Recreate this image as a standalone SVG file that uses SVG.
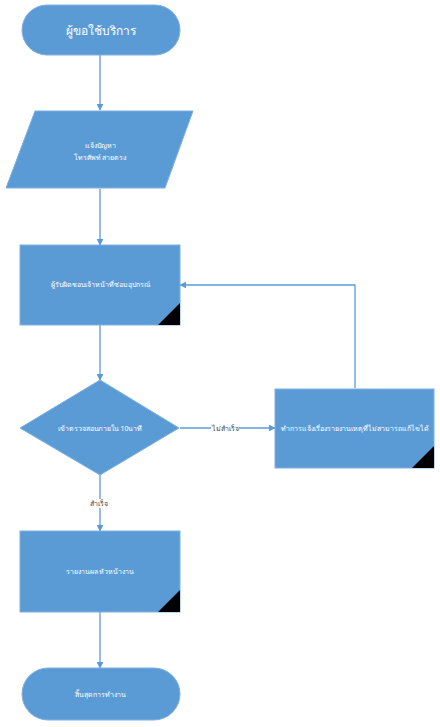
<svg xmlns="http://www.w3.org/2000/svg" width="440" height="727" viewBox="0 0 440 727">
<style>
.shape{fill:#5B9BD5;stroke:#7FB0DE;stroke-width:1}
.corner{fill:#000}
.t{font-family:"Noto Sans","DejaVu Sans",sans-serif;fill:#fff;text-anchor:middle;dominant-baseline:central}
.small{font-size:7px}
.big{font-size:12px}
.conn{fill:none;stroke:#5B9BD5;stroke-width:1.3}
.lbl{font-family:"Noto Sans","DejaVu Sans",sans-serif;font-size:7px;fill:#404040;text-anchor:middle;dominant-baseline:central}
</style>
<defs>
<marker id="ah" viewBox="0 0 10 10" refX="9" refY="5" markerWidth="7" markerHeight="7" orient="auto" markerUnits="userSpaceOnUse">
<path d="M0,0 L10,5 L0,10 z" fill="#5B9BD5"/>
</marker>
</defs>
<rect width="440" height="727" fill="#fff"/>
<g id="connectors">
<line class="conn" x1="100" y1="55" x2="100" y2="110" marker-end="url(#ah)"/>
<line class="conn" x1="100" y1="189" x2="100" y2="245" marker-end="url(#ah)"/>
<line class="conn" x1="100" y1="325" x2="100" y2="380" marker-end="url(#ah)"/>
<line class="conn" x1="180" y1="428" x2="275" y2="428" marker-end="url(#ah)"/>
<polyline class="conn" points="355,388 355,285 180,285" marker-end="url(#ah)"/>
<line class="conn" x1="100" y1="475" x2="100" y2="531" marker-end="url(#ah)"/>
<line class="conn" x1="100" y1="612" x2="100" y2="668" marker-end="url(#ah)"/>
<rect x="211" y="424" width="28" height="9" fill="#fff"/>
<text class="lbl" x="225" y="428">ไม่สำเร็จ</text>
<rect x="88" y="499" width="22" height="9" fill="#fff"/>
<text class="lbl" x="99" y="503">สำเร็จ</text>
</g>
<g id="start">
<rect class="shape" x="22" y="5" width="158" height="50" rx="25" ry="25"/>
<text class="t big" x="101" y="30">ผู้ขอใช้บริการ</text>
</g>
<g id="input">
<polygon class="shape" points="35,111 193,111 165,188 6,188"/>
<text class="t small" x="100" y="145">แจ้งปัญหา</text>
<text class="t small" x="100" y="157">โทรศัพท์ สายตรง</text>
</g>
<g id="process1">
<rect class="shape" x="20" y="245" width="160" height="80"/>
<polygon class="corner" points="158,325 180,325 180,303"/>
<text class="t small" x="100" y="284">ผู้รับผิดชอบเจ้าหน้าที่ซ่อมอุปกรณ์</text>
</g>
<g id="decision">
<polygon class="shape" points="100,380 179,428 100,475 20,428"/>
<text class="t small" x="100" y="428">เข้าตรวจสอบภายใน 10นาที</text>
</g>
<g id="process2">
<rect class="shape" x="275" y="389" width="159" height="79"/>
<polygon class="corner" points="412,468 434,468 434,446"/>
<text class="t small" x="355" y="428">ทำการแจ้งเรื่องรายงานเหตุที่ไม่สามารถแก้ไขได้</text>
</g>
<g id="process3">
<rect class="shape" x="20" y="531" width="160" height="81"/>
<polygon class="corner" points="158,612 180,612 180,590"/>
<text class="t small" x="100" y="571">รายงานผล หัวหน้างาน</text>
</g>
<g id="end">
<rect class="shape" x="22" y="668" width="158" height="52" rx="26" ry="26"/>
<text class="t small" x="100" y="694">สิ้นสุดการทำงาน</text>
</g>
</svg>
